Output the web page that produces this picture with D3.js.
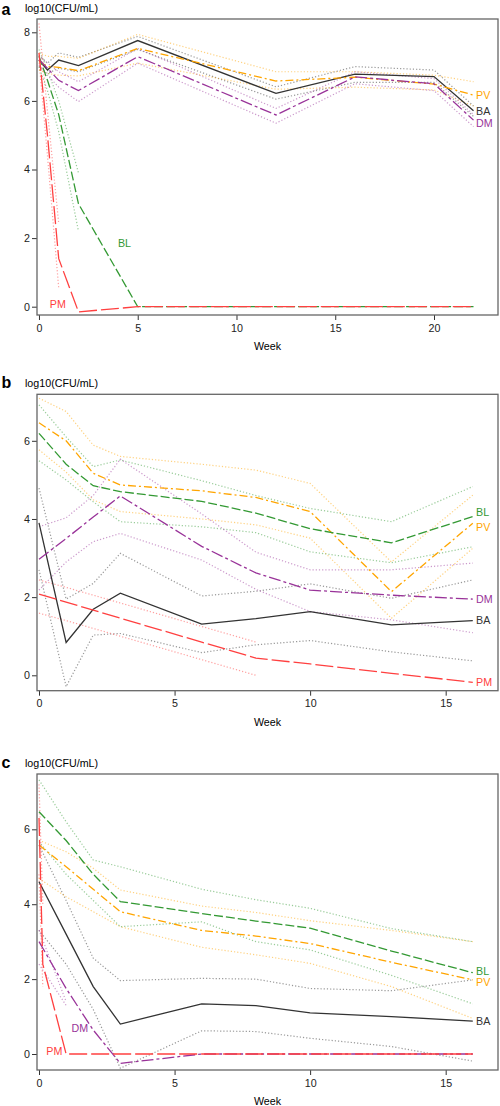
<!DOCTYPE html>
<html><head><meta charset="utf-8">
<script src="https://cdn.jsdelivr.net/npm/d3@7"></script>
<style>body{margin:0;background:#fff;} svg text{font-family:"Liberation Sans",Arial,Helvetica,sans-serif;}</style>
</head><body><svg id="chart" width="500" height="1106"></svg>
<script>
// ---------------- DATA ----------------
const seriesNames = ["BA", "PV", "BL", "DM", "PM"];
const yTitle = "log10(CFU/mL)";
const xTitle = "Week";

// Panel a
const weeksA = [0, 0.43, 1, 2, 5, 12, 16, 20, 22];
const ticksXA = [0, 5, 10, 15, 20];
const ticksYA = [0, 2, 4, 6, 8];
const A_BA    = [7.19, 6.90, 7.19, 7.03, 7.76, 6.22, 6.78, 6.71, 5.71];
const A_BA_hi = [7.34, 7.10, 7.40, 7.27, 7.88, 6.41, 7.00, 6.90, 5.85];
const A_BA_lo = [7.00, 6.80, 6.95, 6.85, 7.50, 6.05, 6.54, 6.54, 5.55];
const A_PV    = [7.15, 7.00, 6.98, 6.88, 7.53, 6.58, 6.69, 6.49, 6.17];
const A_PV_hi = [7.40, 7.30, 7.30, 7.24, 7.94, 6.85, 6.85, 6.75, 6.56];
const A_PV_lo = [6.90, 6.80, 6.75, 6.73, 7.10, 6.34, 6.40, 6.32, 5.85];
const A_BL    = [7.30, 6.60, 5.60, 3.00, 0, 0, 0, 0, 0];
const A_BL_hi = [7.50, 6.90, 6.00, 3.90, null, null, null, null, null];
const A_BL_lo = [7.00, 6.30, 5.10, 2.20, null, null, null, null, null];
const A_DM    = [7.20, 6.95, 6.60, 6.30, 7.29, 5.59, 6.70, 6.50, 5.44];
const A_DM_hi = [7.30, 7.10, 6.85, 6.56, 7.53, 5.78, 6.85, 6.65, 5.60];
const A_DM_lo = [7.05, 6.75, 6.40, 5.98, 7.10, 5.35, 6.50, 6.30, 5.25];
const A_PM    = [7.40, 5.00, 1.40, -0.15, 0, 0, 0, 0, 0];
const A_PM_hi = [8.26, 5.70, 2.43, null, null, null, null, null, null];
const A_PM_lo = [7.20, 4.40, 0.54, null, null, null, null, null, null];

// Panel b
const weeksB = [0, 1, 2, 3, 6, 8, 10, 13, 16];
const ticksXB = [0, 5, 10, 15];
const ticksYB = [0, 2, 4, 6];
const B_BA    = [3.90, 0.84, 1.69, 2.10, 1.31, 1.45, 1.63, 1.29, 1.40];
const B_BA_hi = [4.79, 1.95, 2.35, 3.12, 2.03, 2.15, 2.34, 1.97, 2.44];
const B_BA_lo = [2.70, -0.29, 1.03, 1.07, 0.58, 0.78, 0.89, 0.60, 0.37];
const B_PV    = [6.46, 6.00, 5.17, 4.87, 4.72, 4.55, 4.19, 2.14, 3.89];
const B_PV_hi = [7.09, 6.75, 5.89, 5.60, 5.40, 5.25, 4.91, 2.90, 4.61];
const B_PV_lo = [5.77, 5.20, 4.49, 4.19, 4.00, 3.85, 3.51, 1.46, 3.25];
const B_BL    = [6.19, 5.40, 4.85, 4.70, 4.45, 4.15, 3.75, 3.39, 4.06];
const B_BL_hi = [6.92, 6.10, 5.34, 5.51, 4.98, 4.60, 4.27, 3.93, 4.83];
const B_BL_lo = [5.49, 5.00, 4.44, 3.93, 3.80, 3.65, 3.16, 2.88, 3.29];
const B_DM    = [2.97, 3.50, 4.05, 4.59, 3.30, 2.62, 2.18, 2.05, 1.95];
const B_DM_hi = [3.80, 4.03, 4.60, 5.53, 4.13, 3.15, 2.70, 2.70, 2.87];
const B_DM_lo = [2.18, 2.90, 3.42, 3.63, 2.95, 2.20, 1.63, 1.42, 1.09];
const B_PM    = [2.08, 1.87, 1.67, 1.46, 0.85, 0.44, 0.29, 0.05, -0.18];
const B_PM_hi = [2.44, 2.25, 2.05, 1.85, 1.25, 0.85, null, null, null];
const B_PM_lo = [1.59, 1.40, 1.20, 1.00, 0.40, 0.00, null, null, null];

// Panel c
const weeksC = [0, 1, 2, 3, 6, 8, 10, 13, 16];
const weeksC_PM = [0, 0.14, 1, 2, 3, 6, 8, 10, 13, 16];
const ticksXC = [0, 5, 10, 15];
const ticksYC = [0, 2, 4, 6];
const C_BA    = [4.60, 3.20, 1.80, 0.80, 1.34, 1.29, 1.10, 1.00, 0.88];
const C_BA_hi = [5.58, 4.10, 2.56, 1.96, 2.02, 2.00, 1.75, 1.69, 1.98];
const C_BA_lo = [3.30, 2.40, 1.19, -0.38, 0.62, 0.60, 0.42, 0.20, -0.19];
const C_PV    = [5.58, 5.00, 4.40, 3.80, 3.30, 3.15, 2.95, 2.45, 1.98];
const C_PV_hi = [5.71, 5.40, 4.96, 4.38, 3.95, 3.78, 3.56, 3.30, 3.00];
const C_PV_lo = [4.69, 4.20, 3.80, 3.40, 2.85, 2.65, 2.42, 1.80, 0.95];
const C_BL    = [6.47, 5.70, 4.80, 4.07, 3.75, 3.55, 3.36, 2.75, 2.17];
const C_BL_hi = [7.32, 6.20, 5.18, 5.00, 4.40, 4.12, 3.89, 3.35, 3.00];
const C_BL_lo = [5.67, 4.80, 4.10, 3.40, 3.53, 3.00, 2.78, 2.10, 1.34];
const C_DM    = [3.00, 1.75, 0.64, -0.25, 0, 0, 0, 0, 0];
const C_DM_hi = [3.31, 1.40, null, null, null, null, null, null, null];
const C_DM_lo = [2.40, 1.30, null, null, null, null, null, null, null];
const C_PM    = [6.30, 2.40, 0, 0, 0, 0, 0, 0, 0, 0];
const C_PM_hi = [7.20, 4.00, null, null, null, null, null, null, null, null];
const C_PM_lo = [4.80, 1.80, null, null, null, null, null, null, null, null];

// ---------------- STYLE ----------------
const colors = {BA: "#333333", PV: "#FFA500", BL: "#339933", DM: "#993399", PM: "#FF4040"};
const dashes = {BA: null, PV: "8,3,2,3", BL: "9,3", DM: "12,3,3,3", PM: "18,4"};
const font = '"Liberation Sans",Arial,Helvetica,sans-serif';

const svg = d3.select("#chart");
const L = 37, R = 498;

function mk(name, weeks, m, lo, hi) { return {name, weeks, m, lo, hi}; }

const panels = [
  { letter: "a", top: 19, bottom: 315, xDom: [-0.1, 23.24], yDom: [-0.242, 8.388],
    xt: ticksXA, yt: ticksYA,
    series: [mk("BA", weeksA, A_BA, A_BA_lo, A_BA_hi), mk("PV", weeksA, A_PV, A_PV_lo, A_PV_hi),
             mk("BL", weeksA, A_BL, A_BL_lo, A_BL_hi), mk("DM", weeksA, A_DM, A_DM_lo, A_DM_hi),
             mk("PM", weeksA, A_PM, A_PM_lo, A_PM_hi)],
    labels: {PV: {end: true, dy: 0}, BA: {end: true, dy: 0}, DM: {end: true, dy: 3},
             BL: {x: 4.0, y: 1.85}, PM: {x: 0.55, y: 0.08}} },
  { letter: "b", top: 394.3, bottom: 690.7, xDom: [-0.074, 16.93], yDom: [-0.394, 7.19],
    xt: ticksXB, yt: ticksYB,
    series: [mk("BA", weeksB, B_BA, B_BA_lo, B_BA_hi), mk("PV", weeksB, B_PV, B_PV_lo, B_PV_hi),
             mk("BL", weeksB, B_BL, B_BL_lo, B_BL_hi), mk("DM", weeksB, B_DM, B_DM_lo, B_DM_hi),
             mk("PM", weeksB, B_PM, B_PM_lo, B_PM_hi)],
    labels: {BL: {end: true, dy: -4}, PV: {end: true, dy: 4}, DM: {end: true, dy: 0},
             BA: {end: true, dy: 0}, PM: {end: true, dy: 0}} },
  { letter: "c", top: 774, bottom: 1070, xDom: [-0.074, 16.93], yDom: [-0.427, 7.477],
    xt: ticksXC, yt: ticksYC,
    series: [mk("BA", weeksC, C_BA, C_BA_lo, C_BA_hi), mk("PV", weeksC, C_PV, C_PV_lo, C_PV_hi),
             mk("BL", weeksC, C_BL, C_BL_lo, C_BL_hi), mk("DM", weeksC, C_DM, C_DM_lo, C_DM_hi),
             mk("PM", weeksC_PM, C_PM, C_PM_lo, C_PM_hi)],
    labels: {BL: {end: true, dy: -1.5}, PV: {end: true, dy: 2}, BA: {end: true, dy: 0},
             DM: {x: 1.2, y: 0.7}, PM: {x: 0.27, y: 0.08}} }
];

panels.forEach(p => {
  const x = d3.scaleLinear().domain(p.xDom).range([L, R]);
  const y = d3.scaleLinear().domain(p.yDom).range([p.bottom, p.top]);
  const g = svg.append("g");

  // titles
  const letterSize = 16;
  g.append("text").attr("x", 1.5).attr("y", Math.max(p.top - 6.5, letterSize * 0.91))
    .attr("font-size", letterSize).attr("font-weight", "bold")
    .attr("fill", "#000").text(p.letter);
  g.append("text").attr("x", 25).attr("y", p.top - 7.5).attr("font-size", 10.7).attr("fill", "#000").text(yTitle);

  // axes
  const ax = g.append("g").attr("transform", `translate(0,${p.bottom})`)
    .call(d3.axisBottom(x).tickValues(p.xt).tickSize(5).tickPadding(4).tickFormat(d3.format("d")));
  const ay = g.append("g").attr("transform", `translate(${L},0)`)
    .call(d3.axisLeft(y).tickValues(p.yt).tickSize(5).tickPadding(2).tickFormat(d3.format("d")));
  [ax, ay].forEach(a => {
    a.select(".domain").remove();
    a.selectAll(".tick line").attr("stroke", "#333");
    a.selectAll("text").attr("font-size", 10.7).attr("fill", "#222").attr("font-family", font);
  });
  g.append("text").attr("x", (L + R) / 2).attr("y", p.bottom + 35).attr("text-anchor", "middle")
    .attr("font-size", 10.7).attr("fill", "#000").text(xTitle);

  const clipId = "clip" + p.letter;
  g.append("clipPath").attr("id", clipId).append("rect")
    .attr("x", L).attr("y", p.top).attr("width", R - L).attr("height", p.bottom - p.top);
  const plot = g.append("g").attr("clip-path", `url(#${clipId})`);

  const line = arr => d3.line()
    .defined((d, i) => arr[i] != null)
    .x((d, i) => x(d))
    .y((d, i) => y(arr[i]));

  // bands
  p.series.forEach(s => {
    [s.lo, s.hi].forEach(arr => {
      plot.append("path").attr("d", line(arr)(s.weeks)).attr("fill", "none")
        .attr("stroke", colors[s.name]).attr("stroke-opacity", 0.5)
        .attr("stroke-width", 1.2).attr("stroke-dasharray", "1.2,2");
    });
  });
  // means
  p.series.forEach(s => {
    plot.append("path").attr("d", line(s.m)(s.weeks)).attr("fill", "none")
      .attr("stroke", colors[s.name]).attr("stroke-width", 1.3)
      .attr("stroke-dasharray", dashes[s.name]);
  });

  // box
  g.append("rect").attr("x", L).attr("y", p.top).attr("width", R - L).attr("height", p.bottom - p.top)
    .attr("fill", "none").attr("stroke", "#666").attr("stroke-width", 1.3);

  // labels
  p.series.forEach(s => {
    const lb = p.labels[s.name];
    let lx, ly;
    if (lb.end) {
      lx = 476;
      ly = y(s.m[s.m.length - 1]) + lb.dy;
    } else {
      lx = x(lb.x); ly = y(lb.y);
    }
    g.append("text").attr("x", lx).attr("y", ly).attr("dy", "0.35em")
      .attr("font-size", 10.7).attr("fill", colors[s.name]).text(s.name);
  });
});
</script></body></html>
